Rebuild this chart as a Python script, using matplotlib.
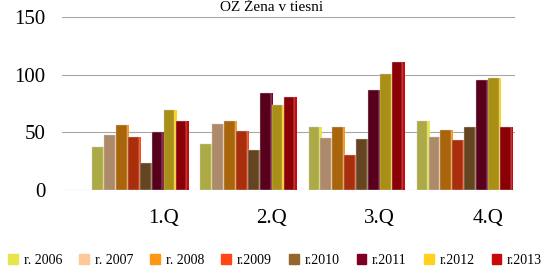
import numpy as np
import matplotlib.pyplot as plt

quarters = ["1.Q", "2.Q", "3.Q", "4.Q"]
years = ["r. 2006", "r. 2007", "r. 2008", "r.2009", "r.2010", "r.2011", "r.2012", "r.2013"]
values = [
    [37, 40, 55, 60],    # 2006
    [48, 57, 45, 46],    # 2007
    [56, 60, 55, 52],    # 2008
    [46, 51, 30, 43],    # 2009
    [23, 35, 44, 55],    # 2010
    [50, 84, 87, 95],    # 2011
    [69, 74, 101, 97],   # 2012
    [60, 81, 111, 55],   # 2013
]
front_colors = ["#ABAA46", "#AD8A6A", "#A9650B", "#A82E0C", "#654421", "#58001B", "#A98F16", "#8B0006"]
side_colors = ["#E6E64A", "#FFC896", "#FF9614", "#FF4614", "#96642D", "#7D0023", "#FFD21E", "#C80A0A"]

plt.rcParams['font.family'] = ['Liberation Serif', 'DejaVu Serif']

fig = plt.figure(figsize=(5.44, 2.66), dpi=100)
ax = fig.add_axes([62 / 544, 1 - 190 / 266, (515 - 62) / 544, (190 - 17) / 266])

x = np.arange(len(quarters))
w = 0.11
n = len(years)
for i in range(n):
    pos = x - w * n / 2 + w * (i + 0.5)
    # side face of the 3D bar, peeking out behind the next bar
    ax.bar(pos + w * 0.3, values[i], w * 0.6, color=side_colors[i], zorder=2 + i)
    ax.bar(pos - w * 0.05, values[i], w * 0.9, color=front_colors[i], zorder=2.5 + i,
           edgecolor="#cccccc", linewidth=0.3)

ax.set_ylim(0, 150)
ax.set_xlim(-0.72, 3.47)
ax.set_yticks([0, 50, 100, 150])
ax.yaxis.grid(True, color="#a6a6a6", linewidth=0.8)
ax.set_axisbelow(True)
ax.set_xticks(x + 0.22)
ax.set_xticklabels(quarters)
ax.tick_params(axis="both", length=0, labelsize=15)
ax.tick_params(axis="x", pad=14)
ax.tick_params(axis="y", pad=12)
for s in ax.spines.values():
    s.set_visible(False)

fig.text(0.5, 0.972, "OZ Žena v tiesni", ha="center", va="center", fontsize=11)

handles = [plt.Rectangle((0, 0), 1, 1, color=c) for c in side_colors]
fig.legend(handles, years, loc="lower left", bbox_to_anchor=(0.0, -0.035), ncol=8,
           frameon=False, fontsize=10, handlelength=0.7, handleheight=0.7,
           handletextpad=0.4, columnspacing=1.25, borderaxespad=0.2)

fig.savefig("out.png", dpi=100)
